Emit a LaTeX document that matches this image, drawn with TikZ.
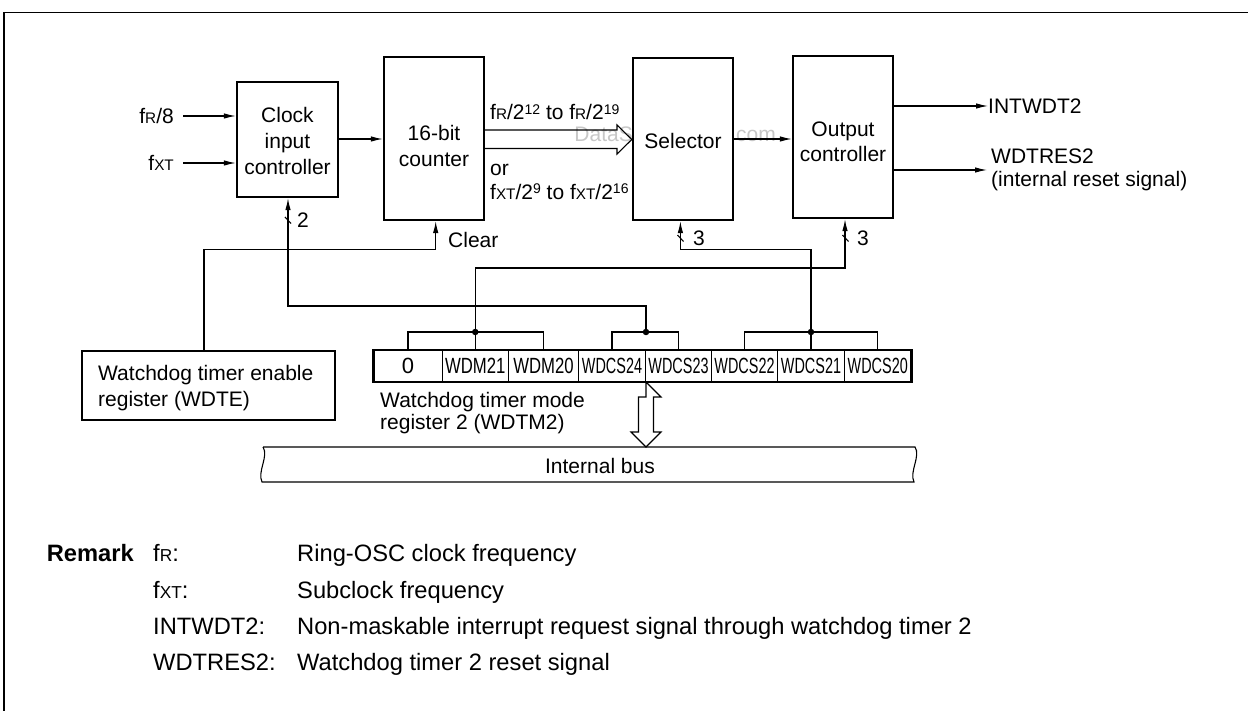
\documentclass[tikz,border=0pt]{standalone}
\usepackage{fontspec}
\setmainfont{Liberation Sans}
\usetikzlibrary{arrows.meta,calc}
\newcommand\dfont{\fontsize{21}{25.7}\selectfont}
\newcommand\rfont{\fontsize{23.7}{28}\selectfont}
\newcommand\sm[1]{{\fontsize{15.3}{15.3}\selectfont #1}}
\newcommand\smr[1]{{\fontsize{17.3}{17.3}\selectfont #1}}
\newcommand\sps[1]{\raisebox{5.5pt}{\fontsize{14}{14}\selectfont #1}}
\newcommand\cs[1]{{\fontsize{22}{22}\selectfont\scalebox{0.655}[1]{#1}}}
\newcommand\cm[1]{{\fontsize{22}{22}\selectfont\scalebox{0.76}[1]{#1}}}
\begin{document}
\begin{tikzpicture}[x=1pt, y=-1pt, font=\dfont,
  every node/.style={inner sep=0pt},
  box/.style={draw, line width=2.4pt, fill=white, inner sep=0pt},
  conn/.style={line width=1.1pt},
  arr/.style={conn, -{Latex[length=12pt,width=5.5pt]}},
  cell/.style={draw, line width=1pt, minimum height=31pt, inner sep=0pt},
  txt/.style={inner sep=0pt, text height=15pt, text depth=0pt},
  rtxt/.style={inner sep=0pt, text height=17pt, text depth=0pt, font=\rfont},
  wmark/.style={inner sep=0pt, text=black!22, font=\fontsize{21}{21}\selectfont, text height=15pt, text depth=0pt},
  jdot/.style={circle, fill=black, inner sep=0pt, minimum size=6.5pt}]
\useasboundingbox (0,0) rectangle (1248,711);
\fill[white] (0,0) rectangle (1248,711);
% outer frame
\draw[line width=1.8pt] (4,711) -- (4,12.5) -- (1248,12.5);
% watermark (visible parts)
\node[wmark, anchor=east] (wm1) at (633,134) {DataS};
\node[wmark, anchor=west] (wm2) at (736,134) {com};
% boxes
\node[box, minimum width=101pt, minimum height=115pt] (clk) at (287.5,139.5) {};
\node[align=center] (clkt) at (287.5,141) {Clock\\input\\controller};
\node[box, minimum width=100pt, minimum height=163pt] (cnt) at (434,138.5) {};
\node[align=center] (cntt) at (434,146) {16-bit\\counter};
\node[box, minimum width=100pt, minimum height=162pt] (sel) at (683,139) {};
\node[txt] (selt) at (683,141) {Selector};
\node[box, minimum width=100pt, minimum height=162pt] (out) at (843,137) {};
\node[align=center, font=\fontsize{21}{25}\selectfont] (outt) at (843,141.5) {Output\\controller};
\node[box, minimum width=253pt, minimum height=69pt] (wdte) at (208.5,385.5) {};
\node[anchor=west, align=left, font=\fontsize{21}{26.3}\selectfont] (wdtet) at (98,388) {Watchdog timer enable\\register (WDTE)};
% inputs
\node[txt, anchor=east] (frl) at (174,116) {f\sm{R}/8};
\node[txt, anchor=east] (fxl) at (174,163) {f\sm{XT}};
\coordinate (fra) at (183,116);
\coordinate (fxa) at (183,163);
\draw[arr] (fra) -- (clk.west |- fra);
\draw[arr] (fxa) -- (clk.west |- fxa);
\draw[arr] (clk.east |- 0,139) -- (cnt.west |- 0,139);
% wide arrow counter -> selector
\draw[conn, line join=miter] (cnt.east |- 0,130) -- (617,130) -- (617,125) -- (sel.west |- 0,139.5) -- (617,154) -- (617,148.5) -- (cnt.east |- 0,148.5);
\node[txt, anchor=west] (l1) at (490,112.5) {f\sm{R}/2\sps{12} to f\sm{R}/2\sps{19}};
\node[txt, anchor=west] (l2) at (490,168) {or};
\node[txt, anchor=west] (l3) at (490,192) {f\sm{XT}/2\sps{9} to f\sm{XT}/2\sps{16}};
% selector -> output
\draw[arr] (sel.east |- 0,139) -- (out.west |- 0,139);
% outputs
\node[txt, anchor=west] (intw) at (988,106) {INTWDT2};
\draw[arr] (out.east |- intw.west) -- (intw.west);
\node[anchor=west, align=left, font=\fontsize{21}{23}\selectfont] (wres) at (991,170) {WDTRES2\\(internal reset signal)};
\coordinate (wresa) at (987,170);
\draw[arr] (out.east |- wresa) -- (wresa);
% register cells
\node[cell, minimum width=68pt] (c0) at (408,366) {{\fontsize{22}{22}\selectfont 0}};
\node[cell, minimum width=66.5pt] (c1) at (475.25,366) {\cm{WDM21}};
\node[cell, minimum width=70pt] (c2) at (543.5,366) {\cm{WDM20}};
\node[cell, minimum width=67pt] (c3) at (612,366) {\cs{WDCS24}};
\node[cell, minimum width=66pt] (c4) at (678.5,366) {\cs{WDCS23}};
\node[cell, minimum width=66pt] (c5) at (744.5,366) {\cs{WDCS22}};
\node[cell, minimum width=67pt] (c6) at (811,366) {\cs{WDCS21}};
\node[cell, minimum width=66.5pt] (c7) at (877.75,366) {\cs{WDCS20}};
\draw[line width=2.4pt] (c0.north west) rectangle (c7.south east);
\node[anchor=west, align=left, font=\fontsize{21}{22.5}\selectfont] (wdtm) at (380,413) {Watchdog timer mode\\register 2 (WDTM2)};
% brackets and junctions
\coordinate (j1) at (c1.north |- 0,332);
\coordinate (j2) at (c3.north east |- 0,332);
\coordinate (j3) at (c6.north |- 0,332);
\draw[conn] (c0.north) |- (j1) -| (c2.north);
\draw[conn] (j1) -- (c1.north);
\draw[conn] (c3.north) |- (j2) -| (c4.north);
\draw[conn] (c5.north) |- (j3) -| (c7.north);
\draw[conn] (j3) -- (c6.north);
\node[jdot] at (j1) {};
\node[jdot] at (j2) {};
\node[jdot] at (j3) {};
% control lines
\draw[arr] (j2) -- ++(0,-26) -| ([xshift=0.5pt]clk.south);
\draw[arr] (j1) -- ++(0,-64) -| ([xshift=2pt]out.south);
\draw[arr] (j3) -- ++(0,-82.7) -| ([xshift=-2.6pt]sel.south);
\draw[arr] ([xshift=-4.5pt]wdte.north) -- ++(0,-100) -| ([xshift=1.7pt]cnt.south);
% bus-width marks
\draw[conn] (285,217) -- (291,223.5);
\draw[conn] (677.5,235) -- (683.5,241.5);
\draw[conn] (842.5,235) -- (848.5,241.5);
\node[txt, anchor=west] (n2) at (297,220) {2};
\node[txt, anchor=west] (n3a) at (693,238) {3};
\node[txt, anchor=west] (n3b) at (857,238) {3};
\node[txt, anchor=west] (clr) at (448,240) {Clear};
% bus double arrow
\draw[conn, line join=miter] (c3.south east) -- ++(15,15) -- ++(-7.5,0) -- ++(0,35) -- ++(7.5,0) -- ++(-15,15) -- ++(-15,-15) -- ++(7.5,0) -- ++(0,-35) -- ++(7.5,0) -- cycle;
% internal bus
\draw[conn] (263,447) -- (915,447) .. controls (921,456) and (909,472) .. (914,482) -- (262,482) .. controls (257,472) and (269,456) .. (263,447);
\node[txt] (ibus) at (600,466) {Internal bus};
% remark
\node[rtxt, anchor=east, font=\rfont\bfseries] (rem) at (134,553) {Remark};
\node[rtxt, anchor=west] (k1) at (153,553) {f\smr{R}:};
\node[rtxt, anchor=west] (k2) at (153,590) {f\smr{XT}:};
\node[rtxt, anchor=west] (k3) at (153,626) {INTWDT2:};
\node[rtxt, anchor=west] (k4) at (153,662) {WDTRES2:};
\node[rtxt, anchor=west] (d1) at (297,553) {Ring-OSC clock frequency};
\node[rtxt, anchor=west] (d2) at (297,590) {Subclock frequency};
\node[rtxt, anchor=west] (d3) at (297,626) {Non-maskable interrupt request signal through watchdog timer 2};
\node[rtxt, anchor=west] (d4) at (297,662) {Watchdog timer 2 reset signal};
\end{tikzpicture}
\end{document}
